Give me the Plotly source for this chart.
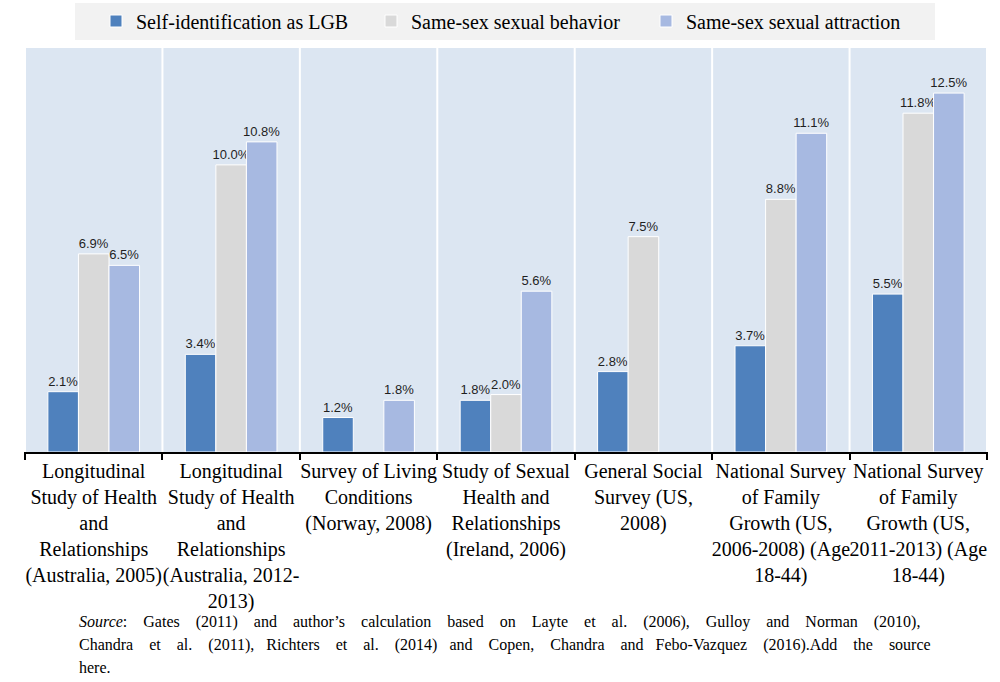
import plotly.graph_objects as go

categories = [
    "Longitudinal<br>Study of Health<br>and<br>Relationships<br>(Australia, 2005)",
    "Longitudinal<br>Study of Health<br>and<br>Relationships<br>(Australia, 2012-<br>2013)",
    "Survey of Living<br>Conditions<br>(Norway, 2008)",
    "Study of Sexual<br>Health and<br>Relationships<br>(Ireland, 2006)",
    "General Social<br>Survey (US,<br>2008)",
    "National Survey<br>of Family<br>Growth (US,<br>2006-2008) (Age<br>18-44)",
    "National Survey<br>of Family<br>Growth (US,<br>2011-2013) (Age<br>18-44)",
]
self_id = [2.1, 3.4, 1.2, 1.8, 2.8, 3.7, 5.5]
behavior = [6.9, 10.0, None, 2.0, 7.5, 8.8, 11.8]
attraction = [6.5, 10.8, 1.8, 5.6, None, 11.1, 12.5]

source_lines = [
    "<i>Source</i>: Gates (2011) and author’s calculation based on Layte et al. (2006), Gulloy and Norman (2010),",
    "Chandra et al. (2011), Richters et al. (2014) and Copen, Chandra and Febo-Vazquez (2016).Add the source",
    "here.",
]

series = [
    ("Self-identification as LGB", self_id, "#4f81bd"),
    ("Same-sex sexual behavior", behavior, "#d9d9d9"),
    ("Same-sex sexual attraction", attraction, "#a7b9e1"),
]

# plot area geometry (pixels)
L, R, T, B = 24, 12, 48, 230
W, H = 1000 - L - R, 682 - T - B

def px_x(p):
    return (p - L) / W

def px_y(p):
    return (682 - B - p) / H

fig = go.Figure()
for name, vals, color in series:
    fig.add_trace(go.Bar(
        name=name, x=categories, y=vals,
        marker=dict(color=color, line=dict(color="white", width=1)),
        text=[(f"{v:.1f}%" if v is not None else "") for v in vals],
        textposition="outside", cliponaxis=False, constraintext="none",
        textfont=dict(family="Liberation Sans, Arial", size=13, color="#1f1f1f"),
    ))

shapes = []
shapes.append(dict(type="rect", xref="paper", yref="paper",
                   x0=px_x(75), x1=px_x(935), y0=px_y(40), y1=px_y(3),
                   fillcolor="#f2f2f2", line=dict(width=0), layer="below"))
for i in range(len(categories) + 1):
    shapes.append(dict(type="line", xref="x", yref="paper",
                       x0=i - 0.5, x1=i - 0.5, y0=0, y1=1,
                       line=dict(color="white", width=2), layer="below"))

def justify(line, extras):
    words = line.split(" ")
    if not extras:
        return line
    out = words[0]
    for k, w in enumerate(words[1:]):
        out += "&nbsp;" * (1 + extras[k % len(extras)]) + w
    return out

annotations = []
ys = [622, 645, 667]
extras = [[3], [3, 3, 3, 2], []]
for txt, yy, ex in zip(source_lines, ys, extras):
    annotations.append(dict(
        xref="paper", yref="paper", x=px_x(77), y=px_y(yy),
        xanchor="left", yanchor="middle", align="left", showarrow=False,
        text=justify(txt, ex),
        font=dict(size=16, family="Liberation Serif", color="black"),
    ))

fig.update_layout(
    width=1000, height=682,
    margin=dict(l=L, r=R, t=T, b=B, autoexpand=False),
    paper_bgcolor="white", plot_bgcolor="#dce6f2",
    barmode="group", bargap=0.333, bargroupgap=0,
    font=dict(family="Liberation Serif, Times New Roman, serif", color="black"),
    showlegend=True,
    legend=dict(orientation="h", x=px_x(96), xanchor="left", y=px_y(21), yanchor="middle",
                bgcolor="rgba(0,0,0,0)", font=dict(size=20, family="Liberation Serif"),
                entrywidth=230, entrywidthmode="pixels", traceorder="normal"),
    shapes=shapes,
    annotations=annotations,
)
fig.update_xaxes(
    showline=True, linecolor="black", linewidth=1.5,
    ticks="outside", tickson="boundaries", ticklen=6, tickcolor="black", tickwidth=1.5,
    tickangle=0,
    tickfont=dict(size=20, family="Liberation Serif", color="black"),
    showgrid=False, automargin=False,
)
fig.update_yaxes(range=[0, 14.07], visible=False, showgrid=False)

fig.write_html("out.html", config={"displayModeBar": False},
               post_script="document.body.style.margin='0';document.body.style.overflow='hidden';")
